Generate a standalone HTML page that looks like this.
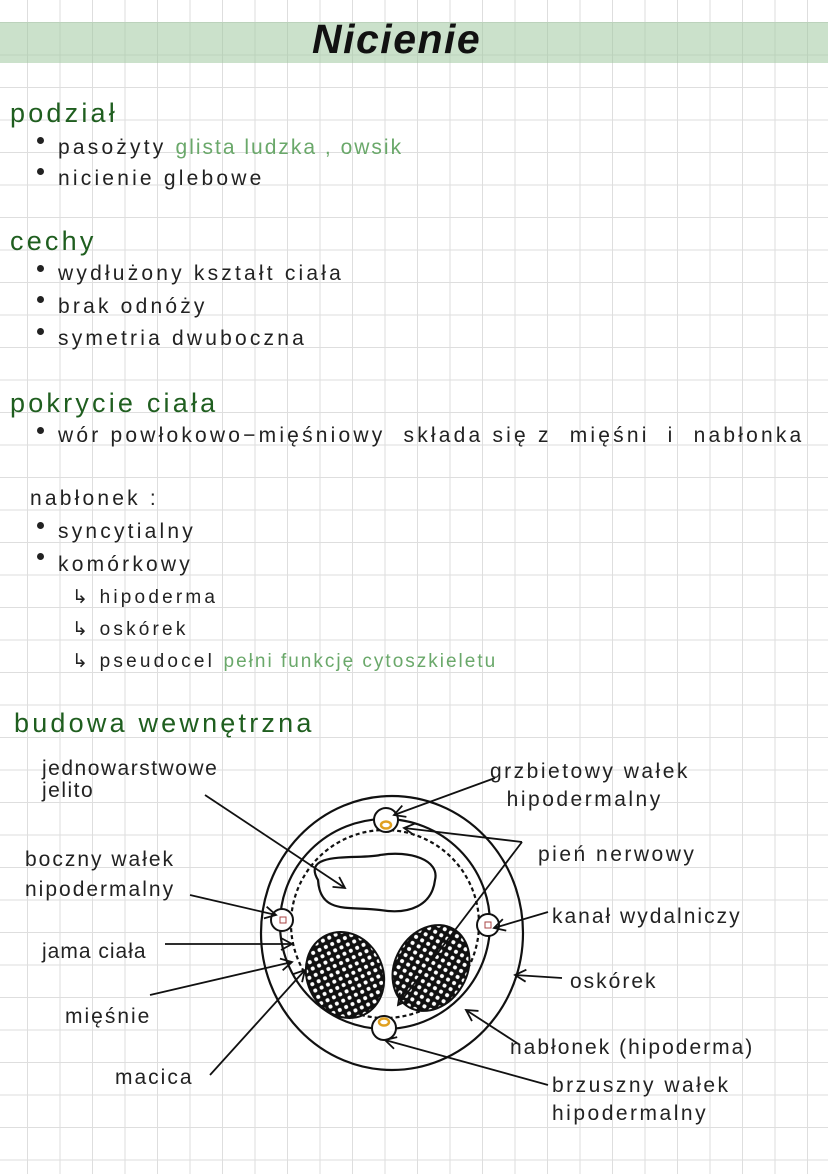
<!DOCTYPE html>
<html><head><meta charset="utf-8"><style>
body{margin:0;width:828px;height:1174px;overflow:hidden;background:#fff;position:relative;font-family:"Liberation Sans",sans-serif}
.grid{position:absolute;inset:0;background-image:linear-gradient(#dedede 1px,transparent 1px),linear-gradient(90deg,#dedede 1px,transparent 1px);background-size:32.5px 32.5px;background-position:27px 22px}
.band{position:absolute;left:0;top:22px;width:828px;height:41px;background:rgba(160,200,160,.55)}
.t{position:absolute;white-space:nowrap;color:#222;font-size:21px;letter-spacing:3.2px}
.h{color:#1f5e1f;font-size:27px}
.g{color:#6aa86a;letter-spacing:2px}
.b{position:absolute;width:7px;height:7px;border-radius:50%;background:#222}
</style></head><body>
<div class="grid"></div><div class="band"></div>
<div class="t" style="left:312px;top:16px;font-size:41px;font-weight:bold;font-style:italic;color:#111;letter-spacing:1.5px">Nicienie</div>
<div class="t h" style="left:10px;top:98px">podział</div>
<div class="b" style="left:37px;top:137px"></div><div class="t" style="left:58px;top:136px">pasożyty <span class="g">glista ludzka , owsik</span></div>
<div class="b" style="left:37px;top:168px"></div><div class="t" style="left:58px;top:167px">nicienie glebowe</div>
<div class="t h" style="left:10px;top:226px">cechy</div>
<div class="b" style="left:37px;top:265px"></div><div class="t" style="left:58px;top:262px">wydłużony kształt ciała</div>
<div class="b" style="left:37px;top:296px"></div><div class="t" style="left:58px;top:295px">brak odnóży</div>
<div class="b" style="left:37px;top:328px"></div><div class="t" style="left:58px;top:327px">symetria dwuboczna</div>
<div class="t h" style="left:10px;top:388px">pokrycie ciała</div>
<div class="b" style="left:37px;top:427px"></div><div class="t" style="left:58px;top:424px">wór powłokowo−mięśniowy&nbsp; składa się z&nbsp; mięśni&nbsp; i&nbsp; nabłonka</div>
<div class="t" style="left:30px;top:487px">nabłonek :</div>
<div class="b" style="left:37px;top:522px"></div><div class="t" style="left:58px;top:520px">syncytialny</div>
<div class="b" style="left:37px;top:553px"></div><div class="t" style="left:58px;top:553px">komórkowy</div>
<div class="t" style="left:72px;top:586px;font-size:19px">↳ hipoderma</div>
<div class="t" style="left:72px;top:618px;font-size:19px">↳ oskórek</div>
<div class="t" style="left:72px;top:650px;font-size:19px">↳ pseudocel <span class="g">pełni funkcję cytoszkieletu</span></div>
<div class="t h" style="left:14px;top:708px">budowa wewnętrzna</div>
<svg style="position:absolute;left:0;top:0" width="828" height="1174">
<defs><pattern id="d" width="7" height="7" patternUnits="userSpaceOnUse"><rect width="7" height="7" fill="#111"/><circle cx="3.5" cy="3.5" r="2" fill="#fff"/></pattern>
<marker id="a" markerUnits="userSpaceOnUse" markerWidth="14" markerHeight="14" refX="12" refY="7" orient="auto"><path d="M1,1 L12,7 L1,13" fill="none" stroke="#111" stroke-width="1.8"/></marker></defs>
<g fill="none" stroke="#111" stroke-width="2.2">
<ellipse cx="392" cy="933" rx="131" ry="137"/>
<circle cx="385" cy="924" r="105"/>
<circle cx="385" cy="924" r="94" stroke-dasharray="4 3"/>
<path d="M318,880 C300,850 360,860 380,855 C410,850 440,860 435,880 C432,905 410,915 380,910 C350,906 320,915 318,880Z"/>
</g>
<ellipse cx="345" cy="975" rx="38" ry="44" transform="rotate(-25 345 975)" fill="url(#d)" stroke="#111" stroke-width="2"/>
<ellipse cx="431" cy="968" rx="36" ry="45" transform="rotate(30 431 968)" fill="url(#d)" stroke="#111" stroke-width="2"/>
<g fill="#fff" stroke="#111" stroke-width="2"><circle cx="386" cy="820" r="12"/><circle cx="384" cy="1028" r="12"/><circle cx="282" cy="920" r="11"/><circle cx="488" cy="925" r="11"/></g>
<g fill="none" stroke="#e0a020" stroke-width="2.5"><ellipse cx="386" cy="825" rx="5" ry="3.5"/><ellipse cx="384" cy="1022" rx="5" ry="3.5"/></g>
<rect x="280" y="917" width="6" height="6" fill="none" stroke="#a44"/><rect x="485" y="922" width="6" height="6" fill="none" stroke="#a44"/>
<g fill="none" stroke="#111" stroke-width="1.8" marker-end="url(#a)">
<path d="M205,795 L345,888"/><path d="M190,895 L276,915"/><path d="M165,944 L292,944"/><path d="M150,995 L292,962"/><path d="M210,1075 L305,970"/>
<path d="M495,778 L394,815"/><path d="M522,842 L404,828"/><path d="M522,842 L398,1005"/><path d="M548,912 L494,928"/><path d="M562,978 L515,975"/><path d="M520,1045 L466,1010"/><path d="M548,1085 L385,1040"/>
</g></svg>
<div class="t" style="left:42px;top:758px;line-height:22px;letter-spacing:1.5px">jednowarstwowe<br>jelito</div>
<div class="t" style="left:490px;top:758px;line-height:28px;letter-spacing:2.5px">grzbietowy wałek<br>&nbsp;&nbsp;hipodermalny</div>
<div class="t" style="left:25px;top:845px;line-height:30px;letter-spacing:2px">boczny wałek<br>nipodermalny</div>
<div class="t" style="left:538px;top:843px;letter-spacing:2.5px">pień nerwowy</div>
<div class="t" style="left:552px;top:905px;letter-spacing:2px">kanał wydalniczy</div>
<div class="t" style="left:42px;top:940px;letter-spacing:1px">jama ciała</div>
<div class="t" style="left:570px;top:970px;letter-spacing:2px">oskórek</div>
<div class="t" style="left:65px;top:1005px;letter-spacing:2px">mięśnie</div>
<div class="t" style="left:510px;top:1036px;letter-spacing:2px">nabłonek (hipoderma)</div>
<div class="t" style="left:115px;top:1066px;letter-spacing:2px">macica</div>
<div class="t" style="left:552px;top:1072px;line-height:28px;letter-spacing:2.5px">brzuszny wałek<br>hipodermalny</div>
</body></html>
